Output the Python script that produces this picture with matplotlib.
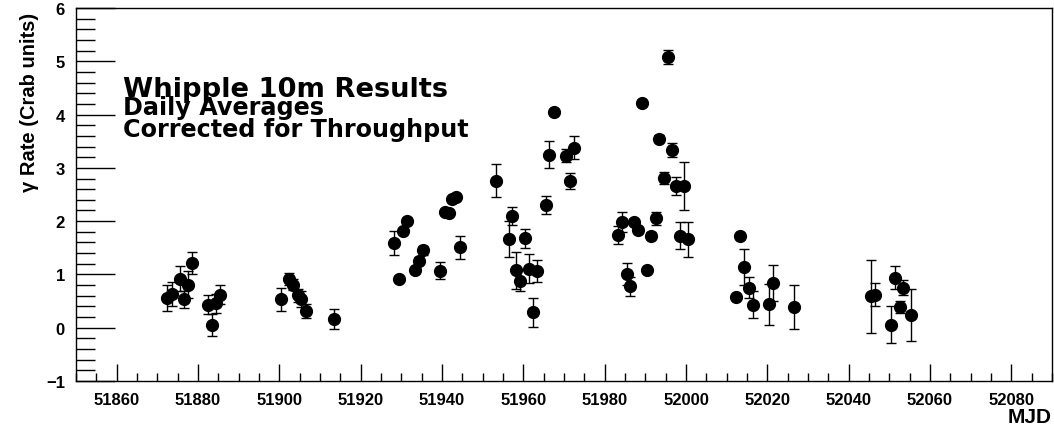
import matplotlib.pyplot as plt
from matplotlib.ticker import MultipleLocator

plt.rcParams["font.family"] = ["Liberation Sans", "DejaVu Sans"]

# Whipple 10m daily averages
mjd = [51872.4, 51873.5, 51875.5, 51876.5, 51877.5, 51878.5, 51882.5, 51883.5, 51884.4, 51885.5,
       51900.4, 51902.4, 51903.3, 51904.5, 51905.4, 51906.5, 51913.5,
       51928.2, 51929.4, 51930.3, 51931.5, 51933.4, 51934.3, 51935.3, 51939.4,
       51940.8, 51941.6, 51942.5, 51943.5, 51944.5,
       51953.3, 51956.4, 51957.3, 51958.3, 51959.3, 51960.3, 51961.3, 51962.3, 51963.3,
       51965.5, 51966.4, 51967.5, 51970.5, 51971.4, 51972.5,
       51983.4, 51984.2, 51985.4, 51986.3, 51987.3, 51988.3, 51989.3, 51990.5, 51991.4,
       51992.5, 51993.3, 51994.5, 51995.6, 51996.5, 51997.5, 51998.5, 51999.6, 52000.5,
       52012.3, 52013.4, 52014.3, 52015.4, 52016.4, 52020.4, 52021.5, 52026.5,
       52045.4, 52046.4, 52050.3, 52051.5, 52052.5, 52053.4, 52055.4]

rate = [0.56, 0.63, 0.92, 0.53, 0.81, 1.21, 0.43, 0.05, 0.46, 0.62,
        0.53, 0.91, 0.81, 0.61, 0.54, 0.31, 0.16,
        1.59, 0.92, 1.81, 2.01, 1.08, 1.26, 1.45, 1.07,
        2.18, 2.16, 2.41, 2.46, 1.51,
        2.76, 1.66, 2.10, 1.08, 0.88, 1.68, 1.11, 0.29, 1.06,
        2.31, 3.25, 4.05, 3.23, 2.76, 3.38,
        1.74, 1.98, 1.01, 0.78, 1.98, 1.83, 4.22, 1.09, 1.73,
        2.05, 3.55, 2.81, 5.08, 3.34, 2.66, 1.73, 2.66, 1.66,
        0.57, 1.72, 1.14, 0.75, 0.43, 0.44, 0.84, 0.39,
        0.59, 0.62, 0.06, 0.94, 0.39, 0.75, 0.24]

err = [0.24, 0.23, 0.24, 0.16, 0.26, 0.21, 0.18, 0.21, 0.18, 0.18,
       0.22, 0.11, 0.10, 0.12, 0.15, 0.13, 0.19,
       0.23, 0.05, 0.05, 0.05, 0.05, 0.06, 0.08, 0.16,
       0.05, 0.05, 0.05, 0.05, 0.22,
       0.31, 0.34, 0.17, 0.35, 0.20, 0.18, 0.28, 0.27, 0.21,
       0.17, 0.26, 0.05, 0.12, 0.15, 0.21,
       0.17, 0.19, 0.20, 0.18, 0.06, 0.06, 0.05, 0.05, 0.06,
       0.12, 0.06, 0.12, 0.13, 0.13, 0.16, 0.26, 0.45, 0.33,
       0.05, 0.05, 0.33, 0.20, 0.25, 0.38, 0.33, 0.42,
       0.69, 0.22, 0.34, 0.21, 0.12, 0.14, 0.49]

fig = plt.figure(figsize=(10.54, 4.27), dpi=100)
ax = fig.add_axes([76 / 1054, 1 - 382 / 427, 976 / 1054, 373 / 427])

ax.errorbar(mjd, rate, yerr=err, fmt="o", color="black", ms=8.5,
            ecolor="black", elinewidth=1, capsize=3.5, capthick=1)

ax.set_xlim(51850, 52090)
ax.set_ylim(-1, 6)
ax.xaxis.set_major_locator(MultipleLocator(20))
ax.xaxis.set_minor_locator(MultipleLocator(5))
ax.yaxis.set_major_locator(MultipleLocator(1))
ax.yaxis.set_minor_locator(MultipleLocator(0.2))
ax.tick_params(axis="x", which="major", direction="in", length=12, width=1, pad=8)
ax.tick_params(axis="x", which="minor", direction="in", length=6, width=1)
ax.tick_params(axis="y", which="major", direction="in", length=28, width=1, pad=8)
ax.tick_params(axis="y", which="minor", direction="in", length=14, width=1)
ax.tick_params(labelsize=12)
for lab in ax.get_xticklabels() + ax.get_yticklabels():
    lab.set_fontweight("bold")
for s in ax.spines.values():
    s.set_linewidth(1)

fig.text(30 / 1054, 1 - 13 / 427, "γ Rate (Crab units)", rotation=90,
         ha="center", va="top", fontsize=14.5, fontweight="bold")
fig.text(1052 / 1054, 1 - 418 / 427, "MJD", ha="right", va="center",
         fontsize=15, fontweight="bold")

# wide bold face so the width matches without the lines getting too tall
wide = ["DejaVu Sans"]
fig.text(123 / 1054, 1 - 97 / 427, "Whipple 10m Results", ha="left",
         va="baseline", fontsize=19.7, fontweight="bold", family=wide)
fig.text(123 / 1054, 1 - 115 / 427, "Daily Averages", ha="left",
         va="baseline", fontsize=17.2, fontweight="bold", family=wide)
fig.text(123 / 1054, 1 - 137 / 427, "Corrected for Throughput", ha="left",
         va="baseline", fontsize=17.2, fontweight="bold", family=wide)

fig.savefig("out.png", dpi=100)
